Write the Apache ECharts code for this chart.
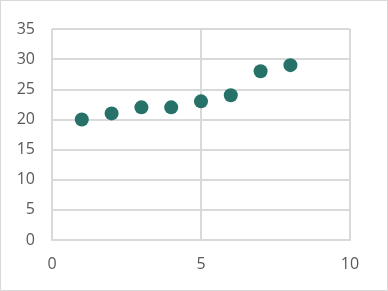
<!DOCTYPE html>
<html><head><meta charset="utf-8">
<script src="https://cdn.jsdelivr.net/npm/echarts@6/dist/echarts.min.js"></script>
<style>html,body{margin:0;padding:0;background:#fff;}#c{width:388px;height:291px;box-sizing:border-box;border:1px solid #d9d9d9;}</style>
</head><body><div id="c"></div>
<script>
const xValues = [1, 2, 3, 4, 5, 6, 7, 8];
const yValues = [20, 21, 22, 22, 23, 24, 28, 29];
const chart = echarts.init(document.getElementById('c'), null, {renderer:'canvas'});
const lbl = {color:'#595959', fontSize:16, fontFamily:'Open Sans, Liberation Sans, sans-serif'};
chart.setOption({
  animation:false,
  grid:{left:51, top:28, right:37, bottom:50, containLabel:false},
  xAxis:{type:'value', min:0, max:10, interval:5,
    axisLine:{show:true, onZero:false, lineStyle:{color:'#d9d9d9', width:2}},
    axisTick:{show:false},
    splitLine:{show:true, lineStyle:{color:'#d9d9d9', width:2}},
    axisLabel:Object.assign({margin:16}, lbl)},
  yAxis:{type:'value', min:0, max:35, interval:5,
    axisLine:{show:false}, axisTick:{show:false},
    splitLine:{show:true, lineStyle:{color:'#d9d9d9', width:2}},
    axisLabel:Object.assign({margin:17}, lbl)},
  series:[{type:'scatter', symbolSize:14,
    itemStyle:{color:'#267268', opacity:1},
    data:xValues.map((x,i)=>[x, yValues[i]])}]
});
</script></body></html>
